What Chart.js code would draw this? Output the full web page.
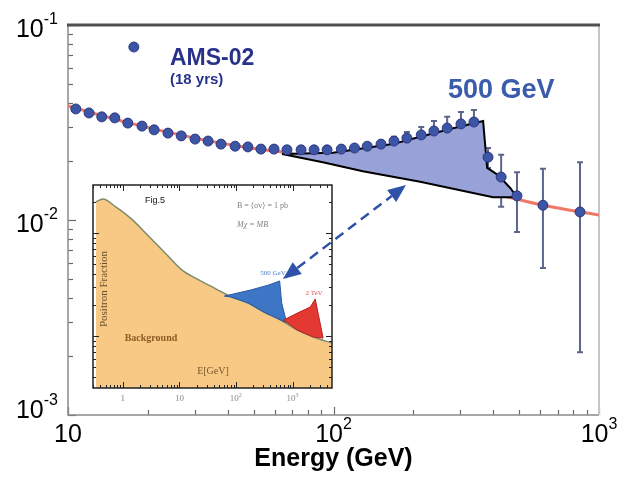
<!DOCTYPE html>
<html>
<head>
<meta charset="utf-8">
<script src="https://cdn.jsdelivr.net/npm/chart.js@4.4.0/dist/chart.umd.min.js"></script>
<style>
    html, body { margin: 0; padding: 0; background: #fff; }
    #wrap { position: relative; width: 617px; height: 477px; }
    #inset { position: absolute; left: 84px; top: 181px; z-index: 1; }
    #chart { position: absolute; left: 0; top: 0; z-index: 2; }
</style>
</head>
<body>
<div id="wrap">
    <canvas id="inset" width="254" height="225"></canvas>
    <canvas id="chart" width="617" height="477"></canvas>
</div>
<script>
/*
----------------------------------
     AMS-02 projection (18 yrs)
----------------------------------
*/
var energies = [10.7, 12.0, 13.4, 15.0, 16.8, 19.0, 21.1, 23.8, 26.7, 30.1, 33.7, 37.7, 42.6, 47.6, 53.3, 59.7, 66.8, 75.5,
    84.5, 94.6, 107, 120, 134, 151, 169, 189, 214, 239, 268, 302, 338, 382, 428, 491, 615, 848];
var fraction = [0.0371, 0.0354, 0.0338, 0.0334, 0.0314, 0.0303, 0.0290, 0.0279, 0.0270, 0.0260, 0.0254, 0.0245, 0.0239, 0.0237,
    0.0231, 0.0231, 0.0229, 0.0229, 0.0229, 0.0229, 0.0231, 0.0234, 0.0239, 0.0245, 0.0254, 0.0263, 0.0273, 0.0286, 0.0296,
    0.0311, 0.0318, 0.0210, 0.0166, 0.0133, 0.0119, 0.0110];
var errHigh = [null, null, null, null, null, null, null, null, null, null, null, null, null, null, null, null, null, null,
    null, null, null, null, null, 0.0254, 0.0267, 0.0283, 0.0300, 0.0322, 0.0338, 0.0358, 0.0367, 0.0234, 0.0216, 0.0176, 0.0183, 0.0198];
var errLow = [null, null, null, null, null, null, null, null, null, null, null, null, null, null, null, null, null, null,
    null, null, null, null, null, 0.0237, 0.0243, 0.0245, 0.0248, 0.0254, 0.0260, 0.0270, 0.0276, 0.0185, 0.0117, 0.00867, 0.00568, 0.00210];

// legend marker next to the AMS-02 label
var markerEnergy = [17.7];
var markerFraction = [0.0771];

// background curve (red)
var bgEnergy = [10, 17.1, 30.1, 48.5, 64.0, 129, 212, 388, 615, 1000];
var bgFraction = [0.0384, 0.0314, 0.0263, 0.0234, 0.0223, 0.0180, 0.0160, 0.0138, 0.0119, 0.0106];

// 500 GeV excess outline
var excessEnergy = [64.0, 99.6, 167, 212, 275, 366, 379, 417, 463, 491, 399, 212, 129, 91.2, 64.0];
var excessFraction = [0.0218, 0.0221, 0.0245, 0.0267, 0.0293, 0.0322, 0.0185, 0.0170, 0.0146, 0.0131, 0.0131, 0.0157,
    0.0178, 0.0198, 0.0218];

// dashed arrow ends (lower-left tip, upper-right tip)
var arrowEnergy = [64.5, 187.5];
var arrowFraction = [0.00498, 0.0151];

var xTicks = [10, 100, 1000];
var xTickLabels = [['10', ''], ['10', '2'], ['10', '3']];
var yTicks = [0.1, 0.01, 0.001];
var yTickLabels = [['10', '-1'], ['10', '-2'], ['10', '-3']];

/*
----------------------------------
     Inset (Fig.5)
----------------------------------
*/
var insetBgEnergy = [0.339, 0.449, 0.755, 1.49, 2.95, 5.60, 11.0, 21.8, 41.4, 81.8, 162, 307, 607, 1197, 2275, 4860];
var insetBgFraction = [0.200, 0.214, 0.179, 0.134, 0.0914, 0.0640, 0.0438, 0.0350, 0.0292, 0.0239, 0.0209, 0.0171,
    0.0143, 0.0114, 0.00977, 0.00855];
var insetBlueEnergy = [61.8, 182, 375, 582, 631, 771, 607, 307, 162, 81.8, 61.8];
var insetBlueFraction = [0.0244, 0.0280, 0.0313, 0.0342, 0.0209, 0.0135, 0.0143, 0.0171, 0.0209, 0.0239, 0.0244];
var insetRedEnergy = [684, 1197, 2014, 2460, 3390, 2275, 1197, 684];
var insetRedFraction = [0.0143, 0.0167, 0.0191, 0.0229, 0.00957, 0.00977, 0.0114, 0.0143];
var insetXTicks = [1, 10, 100, 1000];
var insetXTickLabels = [['1', ''], ['10', ''], ['10', '2'], ['10', '3']];

var SANS = "'Liberation Sans', Arial, sans-serif";
var SERIF = "'Liberation Serif', 'DejaVu Serif', serif";

function pairs(xs, ys) {
    return xs.map(function (x, i) { return { x: x, y: ys[i] }; });
}

function logTickValues(min, max) {
    var out = [];
    for (var k = Math.floor(Math.log10(min)); k <= Math.ceil(Math.log10(max)); k++) {
        for (var m = 1; m <= 9; m++) {
            var v = m * Math.pow(10, k);
            if (v >= min * 0.999 && v <= max * 1.001) out.push({ v: v, major: m == 1 });
        }
    }
    return out;
}

function powerLabel(ctx, parts, x, y, big, small, align) {
    ctx.font = big + 'px ' + SANS;
    var w1 = ctx.measureText(parts[0]).width;
    ctx.font = small + 'px ' + SANS;
    var w2 = parts[1] ? ctx.measureText(parts[1]).width : 0;
    var left = align == 'right' ? x - w1 - w2 : x - (w1 + w2) / 2;
    ctx.textAlign = 'left';
    ctx.font = big + 'px ' + SANS;
    ctx.fillText(parts[0], left, y);
    if (parts[1]) {
        ctx.font = small + 'px ' + SANS;
        ctx.fillText(parts[1], left + w1, y - big * 0.52);
    }
}

function arrowHead(ctx, tx, ty, ang, len, wid) {
    var bx = tx - len * Math.cos(ang), by = ty - len * Math.sin(ang);
    ctx.beginPath();
    ctx.moveTo(tx, ty);
    ctx.lineTo(bx + wid / 2 * Math.sin(ang), by - wid / 2 * Math.cos(ang));
    ctx.lineTo(bx - wid / 2 * Math.sin(ang), by + wid / 2 * Math.cos(ang));
    ctx.closePath();
    ctx.fill();
}

var mainFrame = {
    id: 'mainFrame',
    beforeDatasetsDraw(chart) {
        var ctx = chart.ctx, a = chart.chartArea, xs = chart.scales.x, ys = chart.scales.y;
        ctx.save();
        // ticks
        ctx.strokeStyle = '#6a6a6a';
        ctx.lineWidth = 1.2;
        logTickValues(ys.min, ys.max).forEach(function (t) {
            var py = Math.round(ys.getPixelForValue(t.v)) + 0.5;
            ctx.beginPath(); ctx.moveTo(a.left, py); ctx.lineTo(a.left + (t.major ? 8 : 5), py); ctx.stroke();
        });
        logTickValues(xs.min, xs.max).forEach(function (t) {
            var px = Math.round(xs.getPixelForValue(t.v)) + 0.5;
            ctx.beginPath(); ctx.moveTo(px, a.bottom); ctx.lineTo(px, a.bottom - (t.major ? 8 : 5)); ctx.stroke();
        });
        // border
        ctx.lineWidth = 1.5;
        ctx.strokeStyle = '#8a8a8a';
        ctx.beginPath(); ctx.moveTo(a.left, a.top); ctx.lineTo(a.left, a.bottom); ctx.lineTo(a.right, a.bottom); ctx.stroke();
        ctx.lineWidth = 2;
        ctx.strokeStyle = '#c6c6c6';
        ctx.beginPath(); ctx.moveTo(a.right, a.top); ctx.lineTo(a.right, a.bottom); ctx.stroke();
        ctx.lineWidth = 3;
        ctx.strokeStyle = '#505050';
        ctx.beginPath(); ctx.moveTo(a.left - 1, a.top); ctx.lineTo(a.right + 1, a.top); ctx.stroke();

        // error bars
        ctx.strokeStyle = 'rgba(75,85,125,0.9)';
        ctx.lineWidth = 2;
        energies.forEach(function (e, i) {
            if (errHigh[i] == null) return;
            var px = xs.getPixelForValue(e);
            var top = ys.getPixelForValue(errHigh[i]);
            var bot = ys.getPixelForValue(errLow[i]);
            ctx.beginPath();
            ctx.moveTo(px, top); ctx.lineTo(px, bot);
            ctx.moveTo(px - 3, top); ctx.lineTo(px + 3, top);
            ctx.moveTo(px - 3, bot); ctx.lineTo(px + 3, bot);
            ctx.stroke();
        });
        ctx.restore();
    },
    afterDraw(chart) {
        var ctx = chart.ctx, a = chart.chartArea, xs = chart.scales.x, ys = chart.scales.y;
        ctx.save();
        ctx.fillStyle = '#000';
        ctx.textBaseline = 'alphabetic';
        yTicks.forEach(function (v, i) {
            var py = Math.min(ys.getPixelForValue(v) + 12, a.bottom + 3);
            powerLabel(ctx, yTickLabels[i], 58, py, 25, 16, 'right');
        });
        xTicks.forEach(function (v, i) {
            powerLabel(ctx, xTickLabels[i], xs.getPixelForValue(v), 442, 25, 16, 'center');
        });
        ctx.font = 'bold 25px ' + SANS;
        ctx.textAlign = 'center';
        ctx.fillText('Energy (GeV)', (a.left + a.right) / 2, 466);

        // annotations
        ctx.textAlign = 'left';
        ctx.fillStyle = '#28328a';
        ctx.font = 'bold 23px ' + SANS;
        ctx.fillText('AMS-02', 170, 65);
        ctx.font = 'bold 15px ' + SANS;
        ctx.fillText('(18 yrs)', 170, 84);
        ctx.fillStyle = '#3a5cab';
        ctx.font = 'bold 27px ' + SANS;
        ctx.fillText('500 GeV', 448, 98);

        // dashed double arrow
        var x1 = xs.getPixelForValue(arrowEnergy[0]), y1 = ys.getPixelForValue(arrowFraction[0]);
        var x2 = xs.getPixelForValue(arrowEnergy[1]), y2 = ys.getPixelForValue(arrowFraction[1]);
        var ang = Math.atan2(y2 - y1, x2 - x1), head = 18;
        ctx.strokeStyle = '#2f52a8';
        ctx.fillStyle = '#2f52a8';
        ctx.lineWidth = 2.5;
        ctx.setLineDash([10, 6]);
        ctx.beginPath();
        ctx.moveTo(x1 + head * Math.cos(ang), y1 + head * Math.sin(ang));
        ctx.lineTo(x2 - head * Math.cos(ang), y2 - head * Math.sin(ang));
        ctx.stroke();
        ctx.setLineDash([]);
        arrowHead(ctx, x2, y2, ang, head, 15);
        arrowHead(ctx, x1, y1, ang + Math.PI, head, 15);
        ctx.restore();
    }
};

new Chart(document.getElementById('chart'), {
    type: 'line',
    data: {
        datasets: [
            {
                label: 'AMS-02',
                data: pairs(energies, fraction),
                showLine: false,
                pointRadius: 5,
                pointBackgroundColor: '#3d55a5',
                pointBorderColor: 'rgba(40,50,125,0.9)',
                pointBorderWidth: 1,
                order: 1
            },
            {
                label: 'marker',
                data: pairs(markerEnergy, markerFraction),
                showLine: false,
                pointRadius: 5,
                pointBackgroundColor: '#3d55a5',
                pointBorderColor: 'rgba(40,50,125,0.9)',
                pointBorderWidth: 1,
                order: 1
            },
            {
                label: '500 GeV',
                data: pairs(excessEnergy, excessFraction),
                borderColor: '#000',
                borderWidth: 2,
                backgroundColor: '#98a2d8',
                fill: 'shape',
                pointRadius: 0,
                tension: 0,
                order: 2
            },
            {
                label: 'Background',
                data: pairs(bgEnergy, bgFraction),
                borderColor: '#f07868',
                borderWidth: 3,
                pointRadius: 0,
                tension: 0.3,
                order: 3
            }
        ]
    },
    options: {
        responsive: false,
        animation: false,
        events: [],
        layout: { padding: { left: 68, top: 25, right: 18, bottom: 62 } },
        scales: {
            x: { type: 'logarithmic', min: 10, max: 1000, display: false },
            y: { type: 'logarithmic', min: 0.001, max: 0.1, display: false }
        },
        plugins: {
            legend: { display: false },
            tooltip: { enabled: false }
        }
    },
    plugins: [mainFrame]
});

var insetFrame = {
    id: 'insetFrame',
    beforeDraw(chart) {
        var ctx = chart.ctx;
        ctx.save();
        ctx.fillStyle = '#fff';
        ctx.fillRect(0, 0, chart.width, chart.height);
        ctx.restore();
    },
    afterDatasetsDraw(chart) {
        var ctx = chart.ctx, a = chart.chartArea, xs = chart.scales.x, ys = chart.scales.y;
        ctx.save();
        ctx.strokeStyle = '#222';
        ctx.lineWidth = 1;
        logTickValues(xs.min, xs.max).forEach(function (t) {
            var px = Math.round(xs.getPixelForValue(t.v)) + 0.5, l = t.major ? 6 : 3;
            ctx.beginPath();
            ctx.moveTo(px, a.top); ctx.lineTo(px, a.top + l);
            ctx.moveTo(px, a.bottom); ctx.lineTo(px, a.bottom - l);
            ctx.stroke();
        });
        logTickValues(ys.min, ys.max).forEach(function (t) {
            var py = Math.round(ys.getPixelForValue(t.v)) + 0.5, l = t.major ? 6 : 3;
            ctx.beginPath();
            ctx.moveTo(a.left, py); ctx.lineTo(a.left + l, py);
            ctx.moveTo(a.right, py); ctx.lineTo(a.right - l, py);
            ctx.stroke();
        });
        ctx.lineWidth = 1.5;
        ctx.strokeRect(a.left, a.top, a.right - a.left, a.bottom - a.top);

        // tick labels
        ctx.fillStyle = '#8a8a8a';
        ctx.textAlign = 'left';
        insetXTicks.forEach(function (v, i) {
            var parts = insetXTickLabels[i];
            var px = xs.getPixelForValue(v);
            ctx.font = '9px ' + SERIF;
            var w1 = ctx.measureText(parts[0]).width;
            ctx.fillText(parts[0], px - w1 / 2 - (parts[1] ? 2 : 0), a.bottom + 13);
            if (parts[1]) {
                ctx.font = '6px ' + SERIF;
                ctx.fillText(parts[1], px + w1 / 2 - 2, a.bottom + 9);
            }
        });

        // texts
        ctx.fillStyle = '#111';
        ctx.font = '9px ' + SANS;
        ctx.fillText('Fig.5', 61, 22);
        ctx.fillStyle = '#808080';
        ctx.font = '8px ' + SERIF;
        ctx.fillText('B = \u27e8\u03c3v\u27e9 = 1 pb', 153, 27);
        ctx.font = 'italic 8px ' + SERIF;
        ctx.fillText('M\u03c7 = MB', 153, 46);
        ctx.textAlign = 'center';
        ctx.fillStyle = '#4a7cc8';
        ctx.font = '7px ' + SERIF;
        ctx.fillText('500 GeV', 189, 94);
        ctx.fillStyle = '#e05050';
        ctx.fillText('2 TeV', 230, 114);
        ctx.fillStyle = '#8a5c25';
        ctx.font = 'bold 10px ' + SERIF;
        ctx.fillText('Background', 67, 160);
        ctx.fillStyle = '#7a5530';
        ctx.font = '10px ' + SERIF;
        ctx.fillText('E[GeV]', 129, 193);
        ctx.translate(23, 108);
        ctx.rotate(-Math.PI / 2);
        ctx.fillStyle = '#6b5030';
        ctx.font = '11px ' + SERIF;
        ctx.fillText('Positron Fraction', 0, 0);
        ctx.restore();
    }
};

new Chart(document.getElementById('inset'), {
    type: 'line',
    data: {
        datasets: [
            {
                label: '2 TeV',
                data: pairs(insetRedEnergy, insetRedFraction),
                fill: 'shape',
                backgroundColor: '#e23a32',
                borderColor: '#b82424',
                borderWidth: 1,
                pointRadius: 0,
                order: 1
            },
            {
                label: '500 GeV',
                data: pairs(insetBlueEnergy, insetBlueFraction),
                fill: 'shape',
                backgroundColor: '#3e76c6',
                borderColor: '#2a58a6',
                borderWidth: 1,
                pointRadius: 0,
                order: 1
            },
            {
                label: 'Background',
                data: pairs(insetBgEnergy, insetBgFraction),
                fill: 'start',
                backgroundColor: '#f7c985',
                borderColor: '#7d8c6a',
                borderWidth: 1.5,
                pointRadius: 0,
                cubicInterpolationMode: 'monotone',
                order: 2
            }
        ]
    },
    options: {
        responsive: false,
        animation: false,
        events: [],
        layout: { padding: { left: 9, top: 4, right: 6, bottom: 18 } },
        scales: {
            x: { type: 'logarithmic', min: 0.339, max: 4860, display: false },
            y: { type: 'logarithmic', min: 0.00313, max: 0.292, display: false }
        },
        plugins: {
            legend: { display: false },
            tooltip: { enabled: false }
        }
    },
    plugins: [insetFrame]
});
</script>
</body>
</html>
